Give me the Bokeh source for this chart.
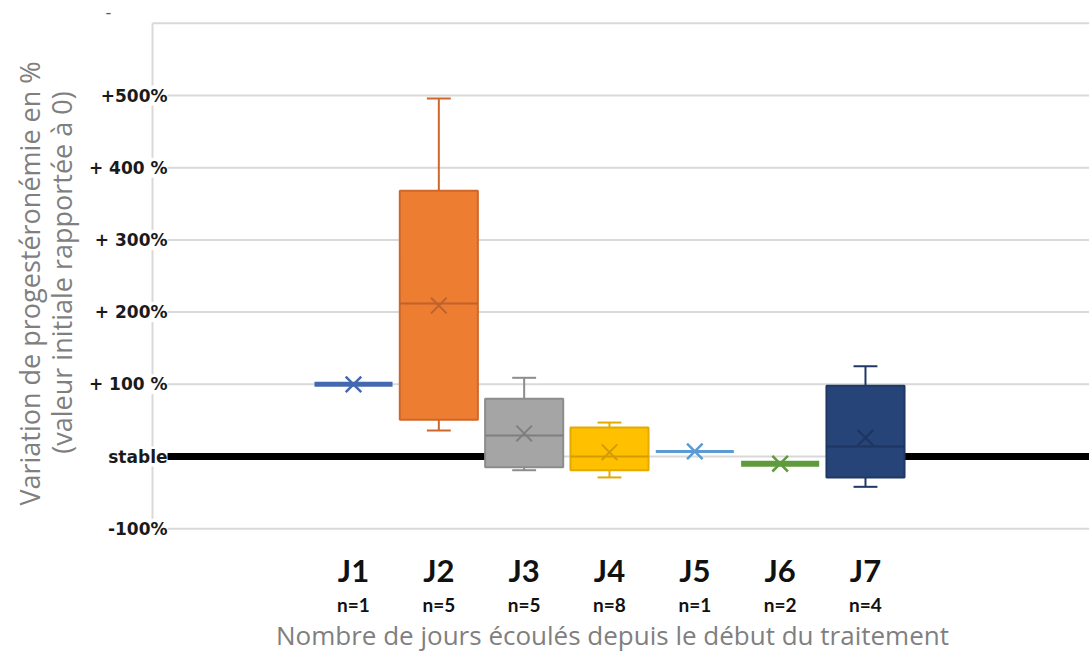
from math import pi
from bokeh.plotting import figure
from bokeh.models import Range1d, ColumnDataSource, LabelSet, Label
from bokeh.core.properties import value
from bokeh.embed import file_html
from bokeh.resources import INLINE

# ---------------- data ----------------
days = ["J1", "J2", "J3", "J4", "J5", "J6", "J7"]
counts = ["n=1", "n=5", "n=5", "n=8", "n=1", "n=2", "n=4"]
mins = [100, 36, -19, -29, 7, -10, -42]
q1s = [100, 51, -15, -19, 7, -10, -29]
medians = [100, 212, 29, 0, 7, -10, 14]
q3s = [100, 368, 80, 40, 7, -10, 98]
maxs = [100, 496, 109, 47, 7, -10, 125]
means = [100, 209, 32, 6, 7, -10, 26]

fills = ["#4468b0", "#ED7D31", "#A5A5A5", "#FFC000", "#5B9BD5", "#5f9a3c", "#264478"]
edges = ["#4468b0", "#d0672a", "#8c8c8c", "#e3aa00", "#5B9BD5", "#5f9a3c", "#1f3864"]
inner = ["#4468b0", "#c0622d", "#7f7f7f", "#d29c00", "#5B9BD5", "#5f9a3c", "#1d3560"]
single_widths = [5, 0, 0, 0, 3, 6, 0]

tick_values = [-100, 0, 100, 200, 300, 400, 500]
tick_labels = ["-100%", "stable", "+ 100 %", "+ 200%", "+ 300%", "+ 400 %", "+500%"]
grid_values = [-100, 0, 100, 200, 300, 400, 500, 600]

y_title_1 = "Variation de progestéronémie en %"
y_title_2 = "(valeur initiale rapportée à 0)"
x_title = "Nombre de jours écoulés depuis le début du traitement"

# ---------------- layout helpers ----------------
PX0, PX_STEP = 353.0, 85.33      # page x of J1 centre, px per category
PY0, PY_SCALE = 456.0, 0.722     # page y of 0 %, px per unit %

def dx(px):
    return 1 + (px - PX0) / PX_STEP

def dy(py):
    return (PY0 - py) / PY_SCALE

W, H = 1089, 654
p = figure(width=W, height=H, x_range=Range1d(dx(0), dx(W)),
           y_range=Range1d(dy(H), dy(0)), output_backend="svg",
           toolbar_location=None, min_border=0, title=None)
p.xaxis.visible = False
p.yaxis.visible = False
p.grid.visible = False
p.outline_line_color = None
p.background_fill_color = "white"

xs = list(range(1, len(days) + 1))
box_w = 0.915
cap_w = 0.28

# grid lines and axis line
x_axis = dx(152)
p.segment(x0=[x_axis] * len(grid_values), x1=[dx(W)] * len(grid_values),
          y0=grid_values, y1=grid_values, line_color="#d9d9d9", line_width=2)
p.segment(x0=[x_axis], x1=[x_axis], y0=[min(grid_values)], y1=[max(grid_values)],
          line_color="#d9d9d9", line_width=2)

# boxes
bi = [i for i in range(len(days)) if q3s[i] > q1s[i]]
si = [i for i in range(len(days)) if q3s[i] == q1s[i]]

box_src = ColumnDataSource(dict(
    x=[xs[i] for i in bi], q1=[q1s[i] for i in bi], q3=[q3s[i] for i in bi],
    lo=[mins[i] for i in bi], hi=[maxs[i] for i in bi], med=[medians[i] for i in bi],
    mean=[means[i] for i in bi], fill=[fills[i] for i in bi],
    edge=[edges[i] for i in bi], inner=[inner[i] for i in bi],
    xl=[xs[i] - box_w / 2 for i in bi], xr=[xs[i] + box_w / 2 for i in bi],
    cl=[xs[i] - cap_w / 2 for i in bi], cr=[xs[i] + cap_w / 2 for i in bi],
))

# whiskers
p.segment(x0="x", x1="x", y0="q3", y1="hi", line_color="edge", line_width=2, source=box_src)
p.segment(x0="x", x1="x", y0="q1", y1="lo", line_color="edge", line_width=2, source=box_src)
p.segment(x0="cl", x1="cr", y0="hi", y1="hi", line_color="edge", line_width=2, source=box_src)
p.segment(x0="cl", x1="cr", y0="lo", y1="lo", line_color="edge", line_width=2, source=box_src)

# stable line (thick black)
p.segment(x0=[dx(168), 7 + box_w / 2], x1=[3 - box_w / 2 + 0.03, dx(W)],
          y0=[0, 0], y1=[0, 0], line_color="black", line_width=7, line_cap="round")

p.vbar(x="x", width=box_w, top="q3", bottom="q1", fill_color="fill",
       line_color="edge", line_width=2, source=box_src)
p.segment(x0="xl", x1="xr", y0="med", y1="med", line_color="inner", line_width=2, source=box_src)
p.scatter(x="x", y="mean", marker="x", size=22, line_color="inner", line_width=2,
          source=box_src)

# single-value categories
for i in si:
    p.segment(x0=[xs[i] - box_w / 2], x1=[xs[i] + box_w / 2], y0=[medians[i]], y1=[medians[i]],
              line_color=fills[i], line_width=single_widths[i])
    p.scatter(x=[xs[i]], y=[means[i]], marker="x", size=22, line_color=fills[i], line_width=2.5)

# y tick labels
tick_src = ColumnDataSource(dict(y=tick_values, text=tick_labels,
                                 x=[dx(167)] * len(tick_values)))
p.add_layout(LabelSet(x="x", y="y", text="text", source=tick_src,
                      text_align="right", text_baseline="middle",
                      text_font=value("DejaVu Sans"), text_font_style="bold",
                      text_font_size="17px", text_color="#1a1a1a",
                      background_fill_color="white"))
p.add_layout(Label(x=dx(108), y=dy(11), text="-", text_align="center",
                   text_baseline="middle", text_font="DejaVu Sans",
                   text_font_size="16px", text_color="#595959"))

# x category labels
cat_src = ColumnDataSource(dict(x=xs, day=days, n=counts,
                                yd=[dy(569)] * len(xs), yn=[dy(604)] * len(xs)))
p.add_layout(LabelSet(x="x", y="yd", text="day", source=cat_src,
                      text_align="center", text_baseline="middle",
                      text_font=value("Lato"), text_font_style="bold",
                      text_font_size="31px", text_color="#111111"))
p.add_layout(LabelSet(x="x", y="yn", text="n", source=cat_src,
                      text_align="center", text_baseline="middle",
                      text_font=value("Lato"), text_font_style="bold",
                      text_font_size="19px", text_color="#111111"))

# axis titles
p.add_layout(Label(x=dx(612), y=dy(634), text=x_title, text_align="center",
                   text_baseline="middle", text_font="Open Sans",
                   text_font_size="26px", text_color="#7f7f7f"))
p.add_layout(Label(x=dx(29), y=dy(283), text=y_title_1, angle=pi / 2,
                   text_align="center", text_baseline="middle",
                   text_font="Open Sans", text_font_size="27px",
                   text_color="#7f7f7f"))
p.add_layout(Label(x=dx(61), y=dy(272), text=y_title_2, angle=pi / 2,
                   text_align="center", text_baseline="middle",
                   text_font="Open Sans", text_font_size="27px",
                   text_color="#7f7f7f"))

open("out.html", "w").write(file_html(p, INLINE))
